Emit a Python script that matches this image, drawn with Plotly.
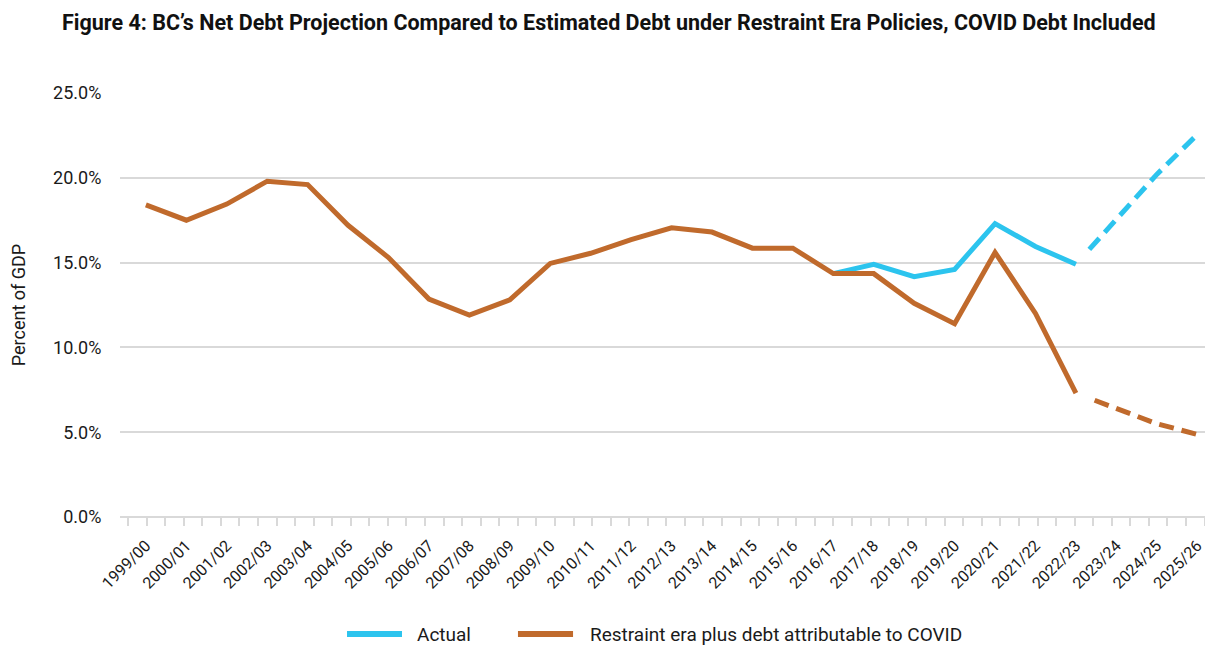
import plotly.graph_objects as go

years = ["1999/00","2000/01","2001/02","2002/03","2003/04","2004/05","2005/06","2006/07",
         "2007/08","2008/09","2009/10","2010/11","2011/12","2012/13","2013/14","2014/15",
         "2015/16","2016/17","2017/18","2018/19","2019/20","2020/21","2021/22","2022/23",
         "2023/24","2024/25","2025/26"]

# Restraint era plus debt attributable to COVID (actual period, % of GDP)
restraint = [18.4, 17.5, 18.45, 19.8, 19.6, 17.2, 15.3, 12.85, 11.9, 12.8, 14.95, 15.55,
             16.35, 17.05, 16.8, 15.85, 15.85, 14.35, 14.35, 12.6, 11.4, 15.6, 12.0, 7.3]
# Restraint projection 2022/23 - 2025/26
restraint_proj = [7.3, 6.4, 5.5, 4.87]

# Actual net debt 2016/17 - 2022/23
actual = [14.35, 14.9, 14.17, 14.6, 17.3, 15.95, 14.9]
# Projected net debt 2022/23 - 2025/26
actual_proj = [14.9, 17.55, 20.2, 22.55]

yticks = [0, 5, 10, 15, 20, 25]

legend_names = ["Actual", "Restraint era plus debt attributable to COVID"]

BLUE = "#2CC4EE"
ORANGE = "#C06A2C"
FONT = "Roboto, sans-serif"
TXT = "#1a1a1a"

xi = list(range(len(years)))
n_act = len(restraint)

dash_pat = "0px,20px," + ",".join(["15px,8px"] * 14)

fig = go.Figure()

# invisible helper trace so the tick-mark axis (x2) is drawn
fig.add_trace(go.Scatter(
    x=xi, y=[0] * len(xi), xaxis="x2", mode="lines", line=dict(width=0),
    hoverinfo="skip", showlegend=False, opacity=0))

fig.add_trace(go.Scatter(
    x=xi[n_act - len(actual):n_act], y=actual, mode="lines", name=legend_names[0],
    line=dict(color=BLUE, width=5), showlegend=False))
fig.add_trace(go.Scatter(
    x=xi[n_act - 1:], y=actual_proj, mode="lines", name="Actual projection",
    line=dict(color=BLUE, width=5, dash=dash_pat), showlegend=False))
fig.add_trace(go.Scatter(
    x=xi[:n_act], y=restraint, mode="lines", name=legend_names[1],
    line=dict(color=ORANGE, width=5), showlegend=False))
fig.add_trace(go.Scatter(
    x=xi[n_act - 1:], y=restraint_proj, mode="lines", name="Restraint projection",
    line=dict(color=ORANGE, width=5, dash=dash_pat), showlegend=False))

# custom legend (longer line samples than plotly's built-in legend)
leg_y = -0.276
for (x0, x1, xt), col, name in zip([(0.2077, 0.258, 0.2699), (0.3641, 0.4145, 0.4282)],
                                   [BLUE, ORANGE], legend_names):
    fig.add_shape(type="line", xref="paper", yref="paper", x0=x0, x1=x1, y0=leg_y, y1=leg_y,
                  line=dict(color=col, width=6))
    fig.add_annotation(xref="paper", yref="paper", x=xt, y=leg_y, text=name,
                       showarrow=False, xanchor="left", yanchor="middle",
                       font=dict(family=FONT, size=19, color=TXT))

fig.update_layout(
    width=1205, height=638,
    margin=dict(l=112, r=0, t=85, b=129),
    paper_bgcolor="white", plot_bgcolor="white",
    font=dict(family=FONT, color=TXT, size=18),
    title=dict(
        text="<b>Figure 4: BC’s Net Debt Projection Compared to Estimated Debt under Restraint Era Policies, COVID Debt Included</b>",
        x=0, xref="paper", xanchor="left", y=0.978, yanchor="middle",
        font=dict(family=FONT, size=21.5, color="#111111"),
        pad=dict(l=-58)),
    showlegend=False,
    xaxis=dict(
        range=[-0.64, 26.39], tickmode="array", tickvals=xi, ticktext=years,
        tickangle=-45, ticks="outside", ticklen=12, tickcolor="rgba(0,0,0,0)",
        showgrid=False, zeroline=False,
        showline=False, tickfont=dict(family=FONT, size=16, color=TXT)),
    xaxis2=dict(
        range=[-0.64, 26.39], overlaying="x", anchor="y", side="bottom",
        tickmode="linear", tick0=-0.44, dtick=0.459, ticks="outside", ticklen=8,
        tickwidth=2, tickcolor="#d9d9d9", showticklabels=False, showgrid=False,
        zeroline=False, showline=False),
    yaxis=dict(
        range=[0, 25], tickvals=yticks, ticktext=[f"{v:.1f}%" for v in yticks],
        showgrid=True, gridcolor="#d9d9d9", gridwidth=2, zeroline=True,
        zerolinecolor="#d9d9d9", zerolinewidth=2, ticks="outside", ticklen=14,
        tickcolor="rgba(0,0,0,0)",
        tickfont=dict(family=FONT, size=18, color=TXT),
        title=dict(text="Percent of GDP", font=dict(family=FONT, size=18, color=TXT),
                   standoff=28)),
)

fig.write_html("out.html")
